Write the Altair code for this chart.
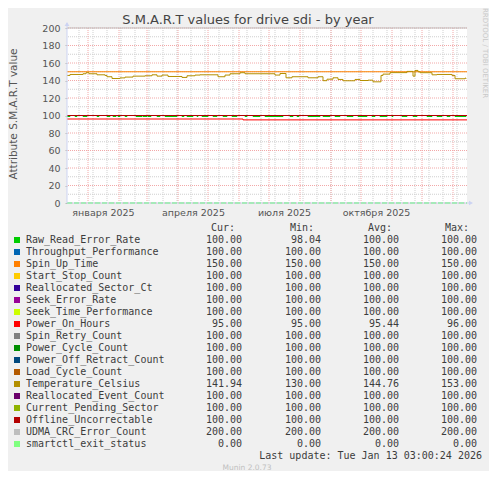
import altair as alt
import pandas as pd

# ---------------- data ----------------
series_names = [
    "Raw_Read_Error_Rate", "Throughput_Performance", "Spin_Up_Time", "Start_Stop_Count",
    "Reallocated_Sector_Ct", "Seek_Error_Rate", "Seek_Time_Performance", "Power_On_Hours",
    "Spin_Retry_Count", "Power_Cycle_Count", "Power_Off_Retract_Count", "Load_Cycle_Count",
    "Temperature_Celsius", "Reallocated_Event_Count", "Current_Pending_Sector",
    "Offline_Uncorrectable", "UDMA_CRC_Error_Count", "smartctl_exit_status",
]
series_colors = [
    "#00CC00", "#0066B3", "#FF8000", "#FFCC00", "#330099", "#990099", "#CCFF00", "#FF0000",
    "#808080", "#008F00", "#00487D", "#B35A00", "#B38F00", "#6B006B", "#8FB300", "#B30000",
    "#BEBEBE", "#80FF80",
]
cur_values = [100, 100, 150, 100, 100, 100, 100, 95, 100, 100, 100, 100, 141.94, 100, 100, 100, 200, 0]
min_values = [98.04, 100, 150, 100, 100, 100, 100, 95, 100, 100, 100, 100, 130, 100, 100, 100, 200, 0]
avg_values = [100, 100, 150, 100, 100, 100, 100, 95.44, 100, 100, 100, 100, 144.76, 100, 100, 100, 200, 0]
max_values = [100, 100, 150, 100, 100, 100, 100, 96, 100, 100, 100, 100, 153, 100, 100, 100, 200, 0]

# days are counted from 2025-01-01
day0 = pd.Timestamp("2025-01-01")
first_day = -21
last_day = 379

temp_days = [-21, -18, -5, -2, 1, 9, 17, 19, 24, 32, 37, 45, 57, 64, 69, 74, 80, 94, 99, 107,
             112, 130, 137, 142, 152, 157, 187, 192, 198, 204, 220, 230, 235, 239, 245, 250,
             255, 267, 272, 280, 285, 293, 295, 302, 319, 325, 327, 330, 332, 344, 349, 364,
             367, 377, 378]
temp_vals = [145.8, 146.9, 147.7, 148.9, 147.7, 146.5, 145.8, 144.3, 142.3, 143.0, 143.9, 145.0,
             145.4, 146.5, 145.0, 146.2, 144.6, 143.5, 145.4, 146.2, 146.5, 144.3, 146.2, 147.7,
             148.9, 147.7, 146.2, 148.0, 143.1, 144.3, 143.1, 144.3, 139.8, 141.5, 143.1, 141.2,
             139.7, 141.2, 140.0, 140.4, 138.5, 145.8, 147.3, 149.0, 150.4, 145.0, 151.5, 150.0,
             148.9, 146.5, 146.9, 145.8, 142.0, 142.7, 141.9]

poh_days = [-21, 155, 379]
poh_vals = [96, 95, 95]

raw_low_start = [-21, -13, -5, 9, 19, 25, 30, 37, 48, 55, 60, 69, 77, 94, 99, 109, 114, 125, 135,
                 144, 157, 165, 177, 202, 209, 220, 235, 247, 259, 270, 284, 292, 304, 314, 325,
                 339, 349, 359, 367]
raw_low_end = [-18, -11, -1, 11, 22, 28, 32, 39, 54, 59, 63, 72, 89, 96, 105, 110, 120, 129, 139,
               149, 159, 172, 195, 205, 211, 232, 242, 252, 265, 279, 287, 299, 305, 319, 329,
               344, 354, 362, 378]
raw_low_value = 98.85
raw_high_value = 100

y_ticks = [0, 20, 40, 60, 80, 100, 120, 140, 160, 180, 200]
y_minor = [10, 30, 50, 70, 90, 110, 130, 150, 170, 190]
month_starts = ["2025-01-01", "2025-02-01", "2025-03-01", "2025-04-01", "2025-05-01", "2025-06-01",
                "2025-07-01", "2025-08-01", "2025-09-01", "2025-10-01", "2025-11-01", "2025-12-01",
                "2026-01-01"]
ru_months = ["января", "февраля", "марта", "апреля", "мая", "июня", "июля", "августа",
             "сентября", "октября", "ноября", "декабря"]
x_label_dates = [(2025, 1, 16), (2025, 4, 16), (2025, 7, 16), (2025, 10, 16)]

title_text = "S.M.A.R.T values for drive sdi - by year"
y_title_text = "Attribute S.M.A.R.T value"
side_text = "RRDTOOL / TOBI OETIKER"
last_update_text = "Last update: Tue Jan 13 03:00:24 2026"
munin_text = "Munin 2.0.73"

# ---------------- helpers ----------------
def to_date(d):
    return day0 + pd.Timedelta(days=d)

SANS = "DejaVu Sans"
MONO = "DejaVu Sans Mono"
W, H = 400, 175

x_scale = alt.Scale(domain=[alt.DateTime(year=2024, month=12, date=11),
                            alt.DateTime(year=2026, month=1, date=15)], nice=False)
y_scale = alt.Scale(domain=[0, 200], nice=False, zero=False)
label_expr = ("[" + ",".join("'%s'" % m for m in ru_months) + "][month(datum.value)]"
              " + ' ' + year(datum.value)")
x_axis = alt.Axis(values=[alt.DateTime(year=a, month=b, date=c) for a, b, c in x_label_dates],
                  labelExpr=label_expr, title=None, domain=False, ticks=False, grid=False,
                  labelFont=SANS, labelFontSize=9.5, labelColor="#555555", labelPadding=4,
                  labelFlush=False, labelOverlap=False)
y_axis = alt.Axis(values=y_ticks, title=None, domain=False, ticks=True, tickSize=2,
                  tickColor="#BBBBBB", grid=False, labelFont=SANS, labelFontSize=9.5,
                  labelColor="#555555", labelPadding=5)


def X(field):
    return alt.X(field, type="temporal", scale=x_scale, axis=x_axis)


def Y(field):
    return alt.Y(field, type="quantitative", scale=y_scale, axis=y_axis)


layers = []

# grid
layers.append(alt.Chart(pd.DataFrame({"v": y_minor})).mark_rule(
    color="#CFCFCF", strokeWidth=1, strokeDash=[1, 1]).encode(y=Y("v")))
minor_dates = pd.date_range("2024-12-23", "2026-01-14", freq="14D")
layers.append(alt.Chart(pd.DataFrame({"d": minor_dates})).mark_rule(
    color="#CFCFCF", strokeWidth=1, strokeDash=[1, 1]).encode(x=X("d")))
layers.append(alt.Chart(pd.DataFrame({"v": y_ticks})).mark_rule(
    color="#F2A8A8", strokeWidth=1, strokeDash=[1, 1]).encode(y=Y("v")))
layers.append(alt.Chart(pd.DataFrame({"d": pd.to_datetime(month_starts)})).mark_rule(
    color="#F2A8A8", strokeWidth=1, strokeDash=[1, 1]).encode(x=X("d")))


def series_frame(i):
    name = series_names[i]
    if name == "Temperature_Celsius":
        days, vals = temp_days, temp_vals
    elif name == "Power_On_Hours":
        days, vals = poh_days, poh_vals
    elif name == "Raw_Read_Error_Rate":
        days, vals = [], []
        if raw_low_start[0] > first_day:
            days.append(first_day)
            vals.append(raw_high_value)
        for s, e in zip(raw_low_start, raw_low_end):
            days += [s, e]
            vals += [raw_low_value, raw_high_value]
        days.append(last_day)
        vals.append(raw_high_value)
    else:
        days, vals = [first_day, last_day], [cur_values[i], cur_values[i]]
    return pd.DataFrame({"d": [to_date(d) for d in days], "v": vals})


for i, name in enumerate(series_names):
    df = series_frame(i)
    if name == "smartctl_exit_status":
        mk = alt.Chart(df).mark_line(interpolate="step-after", color=series_colors[i],
                                     strokeWidth=2, strokeDash=[5, 2])
    else:
        mk = alt.Chart(df).mark_line(interpolate="step-after", color=series_colors[i],
                                     strokeWidth=1)
    layers.append(mk.encode(x=X("d"), y=Y("v")))

one = pd.DataFrame({"k": [0]})
AXC = "#CCD3F2"
layers.append(alt.Chart(one).mark_rule(color=AXC, strokeWidth=1).encode(
    x=alt.value(0), y=alt.value(-5), y2=alt.value(H)))
layers.append(alt.Chart(one).mark_rule(color=AXC, strokeWidth=1).encode(
    x=alt.value(0), x2=alt.value(W + 4), y=alt.value(H)))
layers.append(alt.Chart(one).mark_point(shape="triangle-up", filled=True, size=22,
                                        color=AXC, opacity=1).encode(
    x=alt.value(0), y=alt.value(-4)))
layers.append(alt.Chart(one).mark_point(shape="triangle-right", filled=True, size=22,
                                        color=AXC, opacity=1).encode(
    x=alt.value(W + 4), y=alt.value(H)))

# free texts
def free_text(txt, x, y, size, color, font=SANS, angle=0, align="center"):
    kw = dict(align=align, baseline="middle", font=font, fontSize=size, color=color)
    if angle:
        kw["angle"] = angle
    return alt.Chart(one).mark_text(**kw).encode(
        x=alt.value(x), y=alt.value(y), text=alt.value(txt))

layers.append(free_text(title_text, 181, -8, 13, "#444444"))
layers.append(free_text(y_title_text, -53, 86, 10.5, "#555555", angle=270))
layers.append(free_text(side_text, 417.5, 25, 7, "#C8C8C8", angle=90))
layers.append(free_text(munin_text, 180, 440, 7.5, "#C0C0C0"))

# legend table
LEG = "#3C3C3C"
rows_y = [212 + 12 * i for i in range(len(series_names))]
sw = pd.DataFrame({"px": [-50] * len(series_names), "py": rows_y, "c": series_colors})
layers.append(alt.Chart(sw).mark_square(size=36, opacity=1).encode(
    x=alt.X("px:Q", scale=None, axis=None), y=alt.Y("py:Q", scale=None, axis=None),
    color=alt.Color("c:N", scale=None, legend=None)))

names_df = pd.DataFrame({"px": [-41] * len(series_names), "py": rows_y, "t": series_names})
layers.append(alt.Chart(names_df).mark_text(align="left", baseline="middle", font=MONO,
                                            fontSize=10, color=LEG).encode(
    x=alt.X("px:Q", scale=None, axis=None), y=alt.Y("py:Q", scale=None, axis=None),
    text="t:N"))

col_x = [175, 254, 332, 410]
head_x = [168, 247, 325, 402]
head_t = ["Cur:", "Min:", "Avg:", "Max:"]
px, py, tt = [], [], []
for cx, hx, ht, vals in zip(col_x, head_x, head_t, [cur_values, min_values, avg_values, max_values]):
    px.append(hx); py.append(200); tt.append(ht)
    for r, v in zip(rows_y, vals):
        px.append(cx); py.append(r); tt.append("%.2f" % v)
px.append(415); py.append(428); tt.append(last_update_text)
nums_df = pd.DataFrame({"px": px, "py": py, "t": tt})
layers.append(alt.Chart(nums_df).mark_text(align="right", baseline="middle", font=MONO,
                                           fontSize=10, color=LEG).encode(
    x=alt.X("px:Q", scale=None, axis=None), y=alt.Y("py:Q", scale=None, axis=None),
    text="t:N"))

chart = alt.layer(*layers).properties(
    width=W, height=H,
    autosize=alt.AutoSizeParams(type="none"),
    padding={"left": 59, "top": 20, "right": 22, "bottom": 268},
    background="#F0F0F0",
).configure_view(fill="white", stroke=None)

chart.save("out.html", embed_options={"renderer": "svg", "actions": False})
